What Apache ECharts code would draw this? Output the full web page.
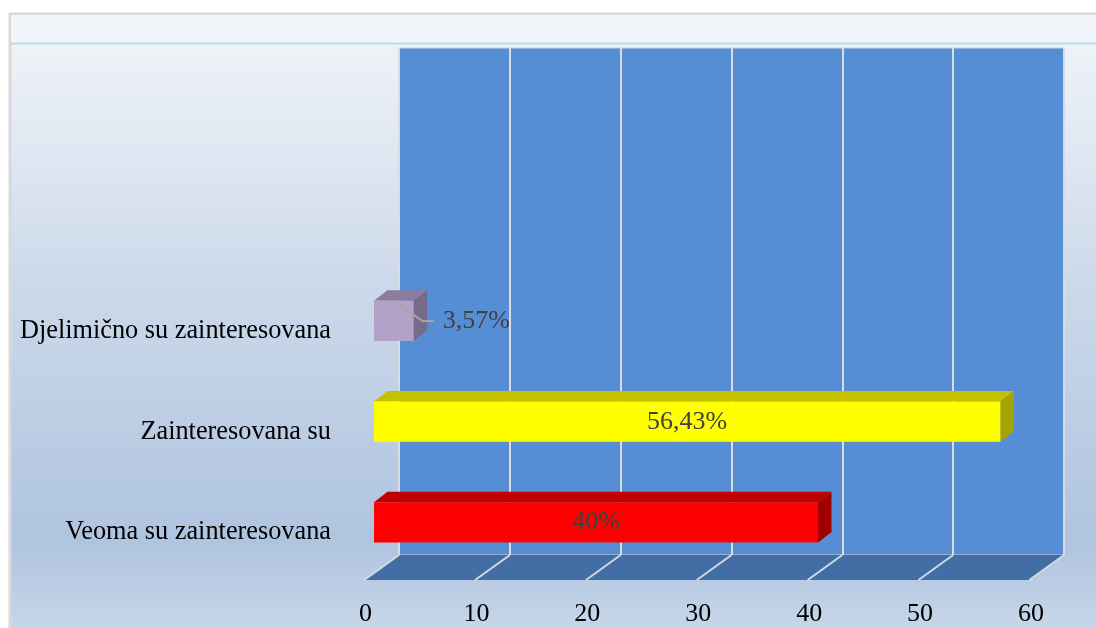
<!DOCTYPE html>
<html>
<head>
<meta charset="utf-8">
<script src="https://cdn.jsdelivr.net/npm/echarts@6/dist/echarts.min.js"></script>
<style>
  html, body { margin: 0; padding: 0; background: #fff; }
  #chart { width: 1096px; height: 628px; }
</style>
</head>
<body>
<div id="chart"></div>
<script>
// data
const categories = ["Veoma su zainteresovana", "Zainteresovana su", "Djelimično su zainteresovana"];
const values = [40, 56.43, 3.57];
const xTicks = [0, 10, 20, 30, 40, 50, 60];

// styles (front, top, side) per category
const barColors = [
  ["#ff0000", "#c00000", "#a00000"],
  ["#ffff00", "#c4c100", "#a6a300"],
  ["#b3a2c7", "#8c7d9e", "#786a8a"],
];
const serif = '"Liberation Serif", "Times New Roman", serif';
const DX = 13.5, DY = -10.5;       // bar depth offset
const FX = -34.7, FY = 25;         // floor depth offset

const chart = echarts.init(document.getElementById("chart"));

const fmt = (v) => String(v).replace(".", ",") + "%";

const options = {
  animation: false,
  graphic: {
    elements: [
      {
        type: "rect", z: -100, silent: true,
        shape: { x: 10, y: 14, width: 1100, height: 620 },
        style: {
          fill: new echarts.graphic.LinearGradient(0, 0, 0, 1, [
            { offset: 0, color: "#f3f6fa" },
            { offset: 0.45, color: "#cbd8ea" },
            { offset: 0.85, color: "#afc4df" },
            { offset: 1, color: "#c8d7ea" },
          ]),
          stroke: "#d9d9d9", lineWidth: 3,
        },
      },
      {
        type: "rect", z: -99, silent: true,
        shape: { x: 11, y: 15, width: 1100, height: 28 },
        style: { fill: "#f1f4f9" },
      },
      {
        type: "line", z: -98, silent: true,
        shape: { x1: 11, y1: 43.5, x2: 1096, y2: 43.5 },
        style: { stroke: "#b9dce6", lineWidth: 2 },
      },
    ],
  },
  grid: [
    // back wall
    { left: 399, right: 32, top: 48, bottom: 73, show: true,
      backgroundColor: "#568ed6", borderColor: "#cfd3d8", borderWidth: 1 },
    // bars front plane
    { left: 374, right: 56, top: 270.6, bottom: 55.2 },
    // floor front edge (tick labels)
    { left: 365.5, right: 65, top: 560, bottom: 48 },
  ],
  xAxis: [
    { gridIndex: 0, type: "value", min: 0, max: 60, interval: 10,
      axisLine: { show: false }, axisTick: { show: false }, axisLabel: { show: false },
      splitLine: { show: true, lineStyle: { color: "#d9dde2", width: 2 } } },
    { gridIndex: 1, type: "value", min: 0, max: 60, interval: 10, show: false },
    { gridIndex: 2, type: "value", min: 0, max: 60, interval: 10,
      axisLine: { show: false }, axisTick: { show: false }, splitLine: { show: false },
      axisLabel: { margin: 21, color: "#000", fontSize: 26, fontFamily: serif } },
  ],
  yAxis: [
    { gridIndex: 0, type: "value", min: 0, max: 1, show: false },
    { gridIndex: 1, type: "category", data: categories,
      axisLine: { show: false }, axisTick: { show: false },
      axisLabel: { margin: 43, color: "#000", fontSize: 26.3, fontFamily: serif,
        verticalAlign: "top", lineHeight: 20 } },
    { gridIndex: 2, type: "value", min: 0, max: 1, show: false },
  ],
  series: [
    // floor
    {
      type: "custom", xAxisIndex: 0, yAxisIndex: 0, silent: true, z: 1,
      data: [[xTicks[0], xTicks[xTicks.length - 1]]],
      renderItem: function (params, api) {
        const a = api.coord([api.value(0), 0]);
        const b = api.coord([api.value(1), 0]);
        return {
          type: "polygon",
          shape: { points: [a, b, [b[0] + FX, b[1] + FY], [a[0] + FX, a[1] + FY]] },
          style: { fill: "#426ea5" },
        };
      },
    },
    // floor grid lines
    {
      type: "custom", xAxisIndex: 0, yAxisIndex: 0, silent: true, z: 2,
      data: xTicks.map((t) => [t]),
      renderItem: function (params, api) {
        const a = api.coord([api.value(0), 0]);
        return {
          type: "line",
          shape: { x1: a[0], y1: a[1], x2: a[0] + FX, y2: a[1] + FY },
          style: { stroke: "#d3d9e0", lineWidth: 2 },
        };
      },
    },
    // 3D bars
    {
      type: "custom", xAxisIndex: 1, yAxisIndex: 1, z: 5,
      data: values.map((v, i) => [v, i]),
      encode: { x: 0, y: 1 },
      renderItem: function (params, api) {
        const v = api.value(0);
        const idx = api.value(1);
        const c = barColors[idx];
        const l = api.coord([0, idx]);
        const r = api.coord([v, idx]);
        const h = api.size([0, 1])[1] * 0.4;
        const y0 = l[1] - h / 2, y1 = l[1] + h / 2;
        const x0 = l[0], x1 = r[0];
        const children = [
          { type: "polygon", shape: { points: [[x0, y0], [x1, y0], [x1 + DX, y0 + DY], [x0 + DX, y0 + DY]] },
            style: { fill: c[1] } },
          { type: "polygon", shape: { points: [[x1, y0], [x1 + DX, y0 + DY], [x1 + DX, y1 + DY], [x1, y1]] },
            style: { fill: c[2] } },
          { type: "rect", shape: { x: x0, y: y0, width: x1 - x0, height: y1 - y0 },
            style: { fill: c[0] } },
        ];
        if (v < 10) {
          children.push({
            type: "polyline",
            shape: { points: [[x0 + 21, y0 + 1], [x1 + 9, l[1]], [x1 + 20, l[1]]] },
            style: { stroke: "#a6a6a6", lineWidth: 2, fill: null },
          });
          children.push({
            type: "text",
            style: { x: x1 + 29, y: l[1], text: fmt(v), fill: "#404040",
              font: "26px " + serif, textAlign: "left", textVerticalAlign: "middle" },
          });
        } else {
          children.push({
            type: "text",
            style: { x: (x0 + x1) / 2, y: l[1], text: fmt(v), fill: "#404040",
              font: "26px " + serif, textAlign: "center", textVerticalAlign: "middle" },
          });
        }
        return { type: "group", children: children };
      },
    },
  ],
};

chart.setOption(options);
</script>
</body>
</html>
